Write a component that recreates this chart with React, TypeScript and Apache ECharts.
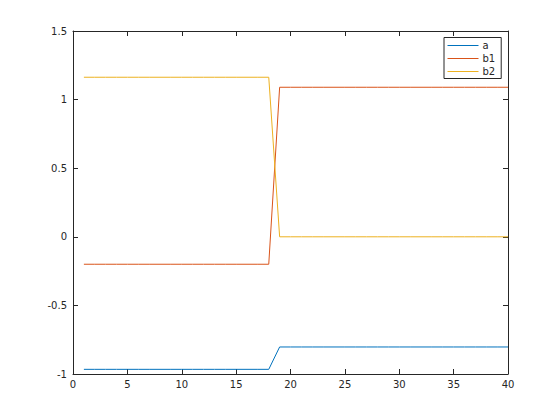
import React, { useEffect, useRef } from "react";
import * as echarts from "echarts";

const xValues = [1, 2, 3, 4, 5, 6, 7, 8, 9, 10, 11, 12, 13, 14, 15, 16, 17, 18, 19, 20, 21, 22, 23, 24, 25, 26, 27, 28, 29, 30, 31, 32, 33, 34, 35, 36, 37, 38, 39, 40];
const aValues = [-0.966, -0.966, -0.966, -0.966, -0.966, -0.966, -0.966, -0.966, -0.966, -0.966, -0.966, -0.966, -0.966, -0.966, -0.966, -0.966, -0.966, -0.966, -0.803, -0.803, -0.803, -0.803, -0.803, -0.803, -0.803, -0.803, -0.803, -0.803, -0.803, -0.803, -0.803, -0.803, -0.803, -0.803, -0.803, -0.803, -0.803, -0.803, -0.803, -0.803];
const b1Values = [-0.2, -0.2, -0.2, -0.2, -0.2, -0.2, -0.2, -0.2, -0.2, -0.2, -0.2, -0.2, -0.2, -0.2, -0.2, -0.2, -0.2, -0.2, 1.09, 1.09, 1.09, 1.09, 1.09, 1.09, 1.09, 1.09, 1.09, 1.09, 1.09, 1.09, 1.09, 1.09, 1.09, 1.09, 1.09, 1.09, 1.09, 1.09, 1.09, 1.09];
const b2Values = [1.163, 1.163, 1.163, 1.163, 1.163, 1.163, 1.163, 1.163, 1.163, 1.163, 1.163, 1.163, 1.163, 1.163, 1.163, 1.163, 1.163, 1.163, 0, 0, 0, 0, 0, 0, 0, 0, 0, 0, 0, 0, 0, 0, 0, 0, 0, 0, 0, 0, 0, 0];
const seriesNames = ["a", "b1", "b2"];
const seriesColors = ["#0072BD", "#D95319", "#EDB120"];

const AXIS = "#262626";
const FONT = "DejaVu Sans";

export default function App() {
  const ref = useRef<HTMLDivElement>(null);
  useEffect(() => {
    if (!ref.current) return;
    document.body.style.margin = "0";
    const chart = echarts.init(ref.current, undefined, { renderer: "svg" });
    const all = [aValues, b1Values, b2Values];
    const baseX = {
      type: "value" as const,
      min: 0,
      max: 40,
      interval: 5,
      axisLine: { show: true, onZero: false, lineStyle: { color: AXIS, width: 1 } },
      axisTick: { show: true, inside: true, length: 5, lineStyle: { color: AXIS } },
      splitLine: { show: false },
    };
    const baseY = {
      type: "value" as const,
      min: -1,
      max: 1.5,
      interval: 0.5,
      axisLine: { show: true, onZero: false, lineStyle: { color: AXIS, width: 1 } },
      axisTick: { show: true, inside: true, length: 5, lineStyle: { color: AXIS } },
      splitLine: { show: false },
    };
    chart.setOption({
      animation: false,
      backgroundColor: "#ffffff",
      textStyle: { fontFamily: FONT },
      grid: { left: 73, right: 52, top: 31, bottom: 46, containLabel: false },
      xAxis: [
        { ...baseX, position: "bottom", axisLabel: { color: AXIS, fontSize: 10, fontFamily: FONT, margin: 5 } },
        { ...baseX, position: "top", axisLabel: { show: false } },
      ],
      yAxis: [
        { ...baseY, position: "left", axisLabel: { color: AXIS, fontSize: 10, fontFamily: FONT, margin: 6 } },
        { ...baseY, position: "right", axisLabel: { show: false } },
      ],
      legend: {
        orient: "vertical",
        left: 444,
        top: 37.5,
        padding: [3, 6, 2, 3],
        itemWidth: 31,
        itemHeight: 10,
        itemGap: 3,
        borderColor: "#262626",
        borderWidth: 1,
        borderRadius: 0,
        backgroundColor: "#ffffff",
        textStyle: { color: AXIS, fontSize: 10, fontFamily: FONT, padding: [0, 0, 0, -1] },
        data: seriesNames.map((n, i) => ({
          name: n,
          itemStyle: { opacity: 0 },
          lineStyle: { color: seriesColors[i], width: 1, opacity: 1 },
        })),
      },
      series: seriesNames.map((name, i) => ({
        name,
        type: "line",
        xAxisIndex: 0,
        yAxisIndex: 0,
        symbol: "none",
        showSymbol: false,
        lineStyle: { color: seriesColors[i], width: 1 },
        itemStyle: { color: seriesColors[i] },
        data: xValues.map((x, j) => [x, all[i][j]]),
      })),
    });
    return () => chart.dispose();
  }, []);
  return <div ref={ref} style={{ width: 560, height: 420 }} />;
}
